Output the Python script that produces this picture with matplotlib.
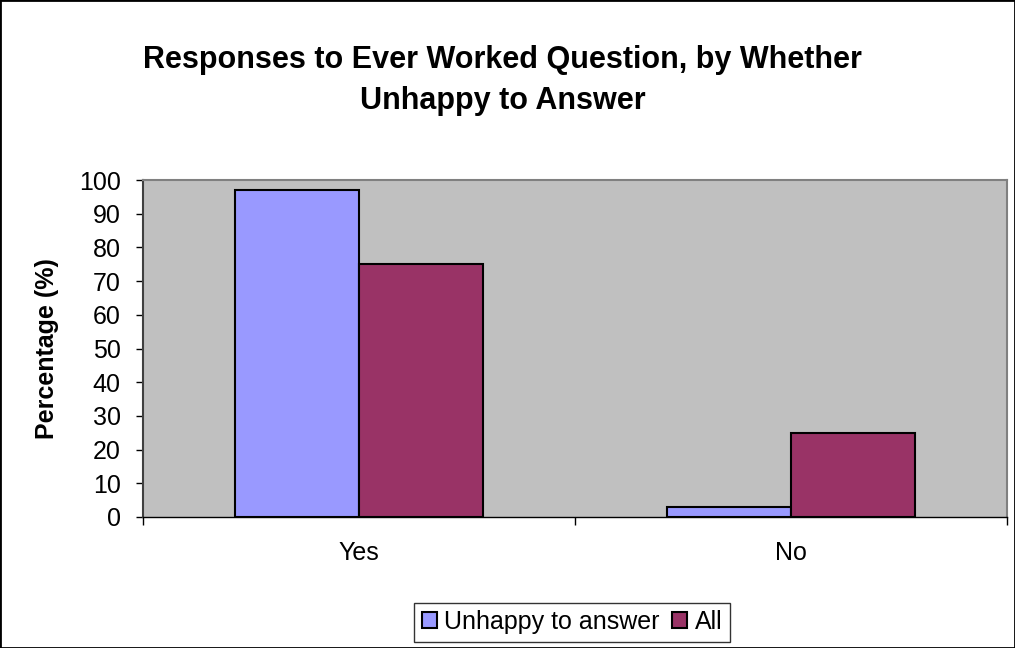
import matplotlib.pyplot as plt
import numpy as np
from matplotlib.patches import Rectangle

plt.rcParams['font.family'] = ['Liberation Sans', 'DejaVu Sans']

categories = ["Yes", "No"]
unhappy = [97, 3]
all_resp = [75, 25]

fig = plt.figure(figsize=(10.15, 6.48), dpi=100)
ax = fig.add_axes([143 / 1015, 1 - 517 / 648, 864 / 1015, 337 / 648])

x = np.arange(len(categories))
w = 0.287
ax.bar(x - w / 2, unhappy, w, color="#9999FF", edgecolor="black", linewidth=1.5, label="Unhappy to answer")
ax.bar(x + w / 2, all_resp, w, color="#993366", edgecolor="black", linewidth=1.5, label="All")

ax.set_facecolor("#C0C0C0")
ax.set_xlim(-0.5, len(categories) - 0.5)
ax.set_ylim(0, 100)
ax.set_yticks(range(0, 101, 10))
ax.tick_params(axis="y", labelsize=18, length=5, width=1, direction="out", pad=11)

# category labels between the boundary ticks
ax.set_xticks([-0.5, 0.5, 1.5])
ax.set_xticklabels([])
ax.set_xticks(x, minor=True)
ax.set_xticklabels(categories, minor=True, fontsize=18)
ax.tick_params(axis="x", which="major", length=6, width=1, direction="out")
ax.tick_params(axis="x", which="minor", length=0, pad=17)

for s in ["top", "right"]:
    ax.spines[s].set_color("#808080")
    ax.spines[s].set_linewidth(1.5)
ax.spines["left"].set_color("#404040")
ax.spines["left"].set_linewidth(1.5)
ax.spines["bottom"].set_color("black")
ax.spines["bottom"].set_linewidth(1)

ax.set_ylabel("Percentage (%)", fontsize=18, fontweight="bold", va="center")
ax.yaxis.set_label_coords(-96 / 864, 0.5)

fig.text(0.495, 0.876, "Responses to Ever Worked Question, by Whether\nUnhappy to Answer",
         ha="center", va="center", fontsize=22, fontweight="bold", linespacing=1.5)

leg = fig.legend(loc="center", bbox_to_anchor=(572 / 1015, 1 - 622 / 648), ncol=2,
                 fontsize=18, frameon=True, fancybox=False, edgecolor="black",
                 handlelength=0.6, handleheight=0.6, handletextpad=0.3,
                 columnspacing=0.5, borderpad=0.3, borderaxespad=0)
leg.get_frame().set_linewidth(1)

fig.patches.append(Rectangle((0, 0), 1, 1, transform=fig.transFigure, fill=False,
                             edgecolor="black", linewidth=2))

fig.savefig("out.png", dpi=100)
